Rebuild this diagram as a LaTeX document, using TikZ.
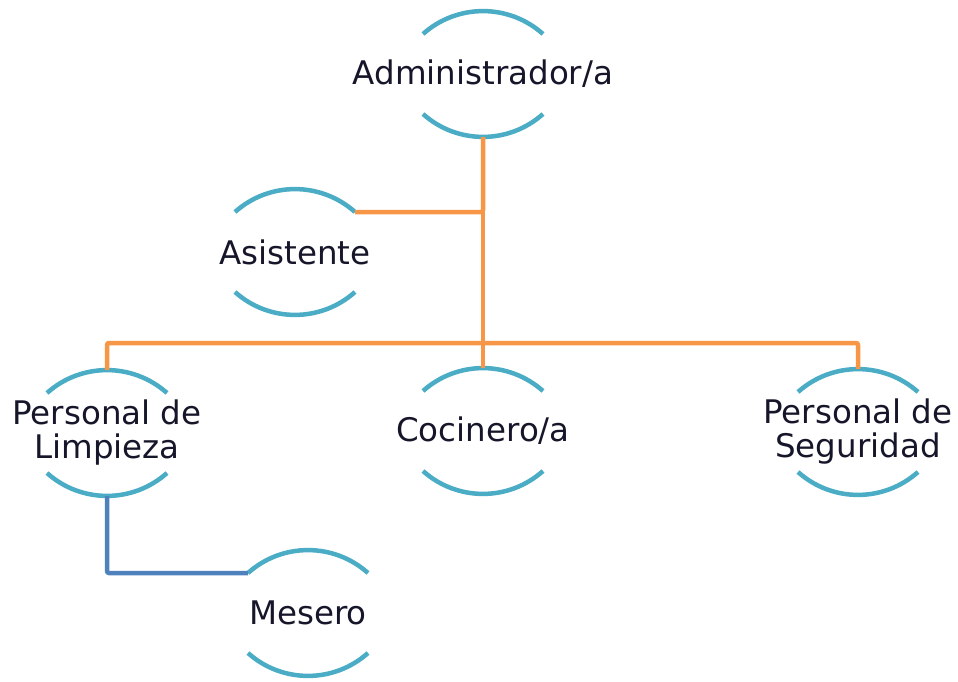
\documentclass[tikz,border=0pt]{standalone}
\usepackage{fontspec}
\setmainfont{DejaVu Sans}
\definecolor{arcblue}{HTML}{4BACC6}
\definecolor{orgline}{HTML}{F79646}
\definecolor{bluline}{HTML}{4F81BD}
\definecolor{txt}{HTML}{16162A}
\begin{document}
\begin{tikzpicture}[x=1pt,y=1pt,
  member/.style={rectangle,minimum width=120pt,minimum height=126pt,inner sep=0pt,
    align=center,text=txt,font=\fontsize{32.5}{34}\selectfont},
  arcline/.style={draw=arcblue,line width=4.5pt},
  orgconn/.style={draw=orgline,line width=4.5pt,line join=round,rounded corners=2pt},
  bluconn/.style={draw=bluline,line width=4.5pt,line join=round,rounded corners=2pt}]
\useasboundingbox (0,0) rectangle (958,-682);
\node[member] (admin) at (483,-74) {Administrador/a};
\node[member] (asis) at (295,-252) {Asistente};
\node[member] (limp) at (107,-433) {Personal de\\Limpieza};
\node[member] (coc) at (483,-431) {Cocinero/a};
\node[member] (seg) at (858,-432) {Personal de\\Seguridad};
\node[member] (mes) at (308,-613) {Mesero};
\foreach \n in {admin,asis,limp,coc,seg,mes}{
  \draw[arcline] ([xshift=-60pt,yshift=40pt]\n.center) arc[start angle=131.8,end angle=48.2,radius=90pt];
  \draw[arcline] ([xshift=-60pt,yshift=-40pt]\n.center) arc[start angle=-131.8,end angle=-48.2,radius=90pt];
}
\coordinate (asisTR) at ([xshift=60pt,yshift=40pt]asis.center);
\coordinate (mesTL) at ([xshift=-60pt,yshift=40pt]mes.center);
\coordinate (bus) at (483,-343);
\draw[orgconn] (admin.south) -- (coc.north);
\draw[orgconn] (admin.south) |- (asisTR);
\draw[orgconn] (bus) -| (limp.north);
\draw[orgconn] (bus) -| (seg.north);
\draw[bluconn] (limp.south) |- (mesTL);
\end{tikzpicture}
\end{document}
